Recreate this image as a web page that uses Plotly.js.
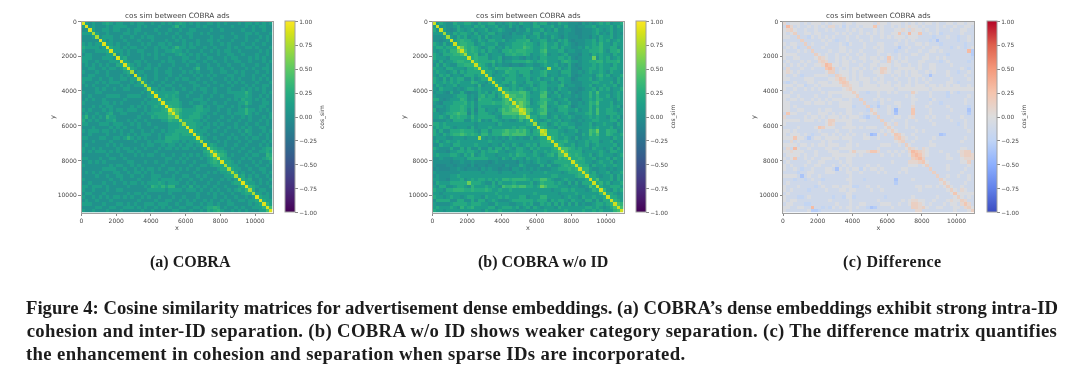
<!DOCTYPE html>
<html><head><meta charset="utf-8">
<script src="https://cdn.plot.ly/plotly-3.0.1.min.js"></script>
<style>html,body{margin:0;padding:0;background:#fff}#g{width:1080px;height:370px;filter:blur(0.55px)}
.annotation[data-index="7"] text{letter-spacing:.43px}
.annotation[data-index="10"] text{letter-spacing:.32px}
.annotation[data-index="11"] text{letter-spacing:.37px}
</style>
</head><body><div id="g"></div>
<script>
// Value levels: each digit (base 12) in the matrices below indexes one of these.
const LEVELS_A = [-0.22,-0.16,-0.12,-0.08,0.0,0.13,0.22,0.3,0.4,0.55,0.74,0.9];
const LEVELS_B = [-0.15,-0.1,-0.06,0.0,0.1,0.22,0.3,0.4,0.55,0.72,0.85];
const LEVELS_C = [-0.5,-0.42,-0.36,-0.3,-0.22,-0.13,-0.03,0.07,0.14,0.22,0.3];

// Upper triangles; every row starts on the diagonal, groups are aligned to 5 columns.
const ROWS_A = [
"b5454 45654 55445 45544 54454 54565 45454 45545 45444 54554 54545",
"b454 44545 55544 45454 44544 45745 44454 54445 44454 44545 45544",
"b54 45545 54454 55444 45444 54454 45544 44544 54444 45445 44544",
"a5 44544 44554 54454 44545 44544 55445 45444 44454 44554 54445",
"a 45554 45445 44545 54444 45454 45444 44544 54445 44544 45454",
"b5454 44544 45444 54445 44545 44454 45545 44454 44544 54454",
"b554 54454 44545 44554 54445 45454 44544 54544 45445 44544",
"b65 54545 54454 45455 45755 45544 54454 44545 44554 54445",
"b5 55454 45544 45445 56554 54445 44545 45544 54444 45454",
"a 45454 44545 45454 44565 45454 54445 44554 45444 54454",
"b5644 44544 45444 54445 54454 45544 45455 44454 54544",
"b654 55454 44454 55445 45544 54454 45445 54454 44545",
"b75 45445 44544 45444 54454 45445 44544 45444 54454",
"b6 54455 45444 54454 44574 45544 54454 44545 44554",
"a 45544 45445 54445 45454 44544 55445 45444 54454",
"b5454 45444 54454 44545 45454 44554 45445 44544",
"a554 45445 44545 54454 44544 45454 54445 45454",
"a54 54454 45444 45544 54454 44545 45444 54445",
"a5 44545 54454 44554 45444 54454 44545 44554",
"a 55454 45445 44545 54454 44544 45454 54544",
"b6555 55644 45444 54454 44555 55754 44545",
"b556 56544 54445 44544 54445 55654 45454",
"b65 56644 44555 45444 44545 46554 54544",
"b6 66654 45445 54454 45444 55754 44554",
"b 76654 44566 45445 54454 54544 45544",
"b9875 55566 55445 44544 55755 45454",
"b865 55665 54454 44545 55754 54445",
"a65 56665 45444 54454 45454 44545",
"a6 66554 54445 44544 54454 45454",
"a 66655 45454 54445 44544 54454",
"b6654 55445 44545 45454 45544",
"b655 54454 45444 54654 44545",
"b65 45444 54454 45454 45454",
"b6 54454 44545 44545 54454",
"a 55445 45444 54454 44545",
"b5654 45445 44544 45454",
"b765 54454 45445 44566",
"b86 65444 54454 45565",
"b8 76454 44545 54476",
"b 66544 45454 44567",
"b6654 54445 45445",
"a655 44544 54454",
"a65 54454 45544",
"a6 45445 44545",
"a 56454 54454",
"b6564 45445",
"b655 45454",
"b76 54445",
"a6 45544",
"a 55454",
"b6554",
"b655",
"b75",
"b8",
"b"
];

const ROWS_B = [
"a4543 35445 54354 45534 34543 54435 45534 35443 33243 43454 53445",
"a343 34534 43545 34453 43534 24435 53445 34353 32334 45344 45354",
"a43 23543 45344 53445 43324 33534 45343 53344 32233 34543 45344",
"94 35455 43534 45534 33243 34435 53544 43343 32233 34534 35343",
"9 43545 34453 53444 23344 45344 53435 43243 33233 24354 45344",
"a4565 54354 35544 53445 55634 45534 35453 23334 45354 53454",
"a566 55345 44453 34455 56554 35644 53454 32334 45464 43544",
"a86 56543 45534 35455 57654 45645 53544 33435 45564 45534",
"a7 56545 35443 55656 66554 46744 45534 43344 55564 35564",
"9 55634 53444 35565 56534 45634 43453 33244 35454 43544",
"a5655 53445 23344 32434 35544 45545 32344 48354 53454",
"a655 55645 34455 55654 55644 43565 44344 55664 55564",
"a65 43534 33233 23443 34544 53435 32344 45454 43544",
"a5 54465 55655 55564 43494 45345 33244 55454 45544",
"a 55434 46554 55534 45644 43555 33434 54454 35443",
"a5344 54554 35544 45634 43445 32344 43564 53445",
"a544 35554 44534 53445 35544 23444 53454 44354",
"a54 55464 43554 45534 43544 33344 45544 45354",
"a5 43454 34453 45544 45634 43344 53445 44534",
"a 55454 54345 45534 35443 33234 45354 53445",
"a7666 77534 46743 53445 32344 64744 43454",
"a776 67544 47734 45344 34344 64644 53454",
"a67 77534 46654 34453 33244 54654 44354",
"a7 87634 56744 53445 33434 65744 45344",
"a 87544 47734 45564 23444 64644 45453",
"a9764 56744 35554 45344 64744 55434",
"a744 57734 44453 34445 64744 55544",
"955 45534 53445 43344 54544 35453",
"a5 43454 45344 33434 45544 45534",
"9 45534 54554 43344 53445 44354",
"a6544 35445 53444 54544 45344",
"a955 54434 45344 76844 65534",
"a55 54544 43354 75744 65445",
"a6 54454 35344 55544 43544",
"a 55564 43445 45534 45344",
"a6544 53445 34544 44534",
"a776 54544 35443 45354",
"a75 55534 44454 35544",
"a6 56544 53454 44345",
"a 55654 45344 53544",
"a6554 43454 45344",
"a655 35445 44544",
"a66 43344 34344",
"a6 45344 53445",
"a 55434 45354",
"a5744 45354",
"a564 53445",
"a54 45554",
"a6 43545",
"a 55434",
"a5544",
"a654",
"a76",
"a7",
"a"
];

const ROWS_C = [
"75666 56566 65656 66566 56666 65766 56665 65656 56656 55665 66566",
"a756 55656 56577 56465 56566 69565 56565 67665 65556 56556 55665",
"865 56556 55656 55565 65655 56565 55667 65766 56556 55565 56655",
"85 56656 65555 65656 55656 56565 56695 6a669 55656 45555 56555",
"8 55465 65656 55565 56555 65565 65666 56665 55545 55655 45565",
"85555 56565 45565 55655 65555 55565 65655 55452 55555 45565",
"8565 55655 56546 55565 55665 55655 65566 56555 45555 55455",
"855 56555 56655 55565 56565 55535 56555 65566 55545 65456",
"85 55565 56656 55655 55665 55455 65556 55665 65555 555a3",
"8 65655 65565 56565 55655 65565 55665 56555 55455 55553",
"87655 65656 55665 66565 96565 65555 66556 56555 55554",
"8755 65665 65565 56655 85656 65556 65555 45655 55545",
"a96 65665 55655 66566 65665 56556 55665 55565 55555",
"a8 56565 66565 65688 65566 66656 55665 55555 56545",
"8 56665 65655 56687 65665 65665 56565 55655 45565",
"87665 65655 55665 56565 65666 55255 55655 55655",
"9865 65666 56565 55655 56565 65655 55565 55565",
"986 66566 55665 65565 56565 56555 55665 45555",
"87 66566 66566 65665 66566 65665 65656 65565",
"8 66666 66666 66566 66666 66566 66666 66666",
"86554 55655 65655 55865 55655 55465 45555",
"8555 55655 55555 65655 55655 55455 55565",
"855 56565 65555 55665 55465 55555 55655",
"85 55465 55665 55655 55655 45555 55655",
"8 45355 65565 55755 56555 55655 55545",
"86555 65155 55955 55655 55565 55525",
"8555 65255 55955 55655 55555 55535",
"855 55665 56755 56565 55655 56555",
"85 56555 65565 55655 55565 55655",
"8 65755 65555 55565 55555 45655",
"86555 65655 55555 55555 55655",
"8655 55565 65555 55555 55565",
"986 55655 55555 23555 55555",
"97 65565 55565 55555 55655",
"8 55655 55655 55555 56555",
"86555 55665 55555 55555",
"8765 76555 55555 56655",
"a98 76555 65555 67885",
"a9 76555 55655 57887",
"a 85555 55665 56777",
"96555 55555 56685",
"8555 55655 55565",
"855 55655 55655",
"85 55555 56555",
"8 55655 65565",
"86555 55565",
"8655 55655",
"865 56555",
"86 57655",
"9 66666",
"86565",
"8755",
"975",
"86",
"8"
];

const XTICKS = [0,2000,4000,6000,8000,10000];
const CB_TICKS = [-1,-0.75,-0.5,-0.25,0,0.25,0.5,0.75,1];
const COOLWARM = [[0,'#3b4cc0'],[0.125,'#6282ea'],[0.25,'#8db0fe'],[0.375,'#c0d4f5'],[0.5,'#dddddd'],[0.625,'#f5c4ad'],[0.75,'#f4987a'],[0.875,'#de604d'],[1,'#b40426']];
const PLOT_TITLE = 'cos sim between COBRA ads';
const CB_TITLE = 'cos_sim';
const SUBCAPTIONS = ['(a) COBRA','(b) COBRA w/o ID','(c) Difference'];
const CAPTION = [
"Figure 4: Cosine similarity matrices for advertisement dense embeddings. (a) COBRA\u2019s dense embeddings exhibit strong intra-ID",
"cohesion and inter-ID separation. (b) COBRA w/o ID shows weaker category separation. (c) The difference matrix quantifies",
"the enhancement in cohesion and separation when sparse IDs are incorporated."
];

function matrix(rows, levels){
  const n = rows.length, z = [];
  for(let i=0;i<n;i++) z.push(new Array(n).fill(null));
  rows.forEach((r,i)=>{
    const s = r.replace(/ /g,'');
    if(s.length !== n-i) throw new Error('row '+i+' length '+s.length);
    for(let k=0;k<s.length;k++){
      const v = levels[parseInt(s[k],12)];
      z[i][i+k] = v; z[i+k][i] = v;
    }
  });
  return z;
}

const W=1080,H=370;
const panels = [
  {l:81.5,r:272.5,cb:285,rows:ROWS_A,lv:LEVELS_A,cs:'Viridis',sub:[190.5,261.7],cbt:322},
  {l:432.5,r:623.5,cb:636,rows:ROWS_B,lv:LEVELS_B,cs:'Viridis',sub:[542.5,261.7],cbt:672.5},
  {l:783,r:974,cb:987,rows:ROWS_C,lv:LEVELS_C,cs:COOLWARM,sub:[892,261.7],cbt:1023.5}
];
const plotTop=21.5,plotBottom=212.5;
const textCol='#444444';
const layout={width:W,height:H,margin:{l:0,r:0,t:0,b:0},paper_bgcolor:'#fff',plot_bgcolor:'#fff',showlegend:false,annotations:[]};
const traces=[];
panels.forEach((p,i)=>{
  const s=i?String(i+1):'';
  layout['xaxis'+s]={domain:[p.l/W,p.r/W],range:[0,11000],anchor:'y'+s,tickvals:XTICKS,tickformat:'d',ticks:'outside',ticklen:2.5,tickwidth:0.7,tickcolor:'#555',
    tickfont:{family:'DejaVu Sans',size:6,color:textCol},showgrid:false,zeroline:false,showline:true,mirror:true,linecolor:'#a0a0a0',linewidth:1,
    title:{text:'x',font:{family:'DejaVu Sans',size:6.5,color:textCol},standoff:1}};
  layout['yaxis'+s]={domain:[1-plotBottom/H,1-plotTop/H],range:[11000,0],anchor:'x'+s,tickvals:XTICKS,tickformat:'d',ticks:'outside',ticklen:2.5,tickwidth:0.7,tickcolor:'#555',
    tickfont:{family:'DejaVu Sans',size:6,color:textCol},showgrid:false,zeroline:false,showline:true,mirror:true,linecolor:'#a0a0a0',linewidth:1,
    title:{text:'y',font:{family:'DejaVu Sans',size:6.5,color:textCol},standoff:1}};
  traces.push({type:'heatmap',z:matrix(p.rows,p.lv),x0:100,dx:200,y0:100,dy:200,xaxis:'x'+s,yaxis:'y'+s,zmin:-1,zmax:1,colorscale:p.cs,
    colorbar:{x:p.cb/W,xanchor:'left',xpad:0,ypad:0,y:1-plotTop/H,yanchor:'top',len:(plotBottom-plotTop)/H,lenmode:'fraction',thickness:10,thicknessmode:'pixels',
      tickvals:CB_TICKS,tickformat:'.2f',ticks:'outside',ticklen:3,tickwidth:0.7,tickcolor:'#555',outlinecolor:'#a0a0a0',outlinewidth:1,
      tickfont:{family:'DejaVu Sans',size:5.8,color:textCol}}});
  layout.annotations.push({text:PLOT_TITLE,xref:'paper',yref:'paper',x:(p.l+p.r)/2/W,y:1-15.7/H,xanchor:'center',yanchor:'middle',showarrow:false,
    font:{family:'DejaVu Sans',size:7.3,color:textCol}});
  layout.annotations.push({text:'<b>'+SUBCAPTIONS[i]+'</b>',xref:'paper',yref:'paper',x:p.sub[0]/W,y:1-p.sub[1]/H,xanchor:'center',yanchor:'middle',showarrow:false,
    font:{family:'Liberation Serif',size:16,color:'#1c1c1c'}});
  layout.annotations.push({text:CB_TITLE,xref:'paper',yref:'paper',x:p.cbt/W,y:1-117/H,xanchor:'center',yanchor:'middle',textangle:-90,showarrow:false,
    font:{family:'DejaVu Sans',size:6,color:textCol}});
});
[[24,308],[43.5,330.5],[38,353]].forEach((pos,k)=>{
  layout.annotations.push({text:'<b>'+CAPTION[k]+'</b>',xref:'paper',yref:'paper',x:pos[0]/W,y:1-pos[1]/H,xanchor:'left',yanchor:'middle',showarrow:false,
    font:{family:'Liberation Serif',size:18.7,color:'#1c1c1c'}});
});
Plotly.newPlot('g',traces,layout,{staticPlot:true,displayModeBar:false});
</script></body></html>
